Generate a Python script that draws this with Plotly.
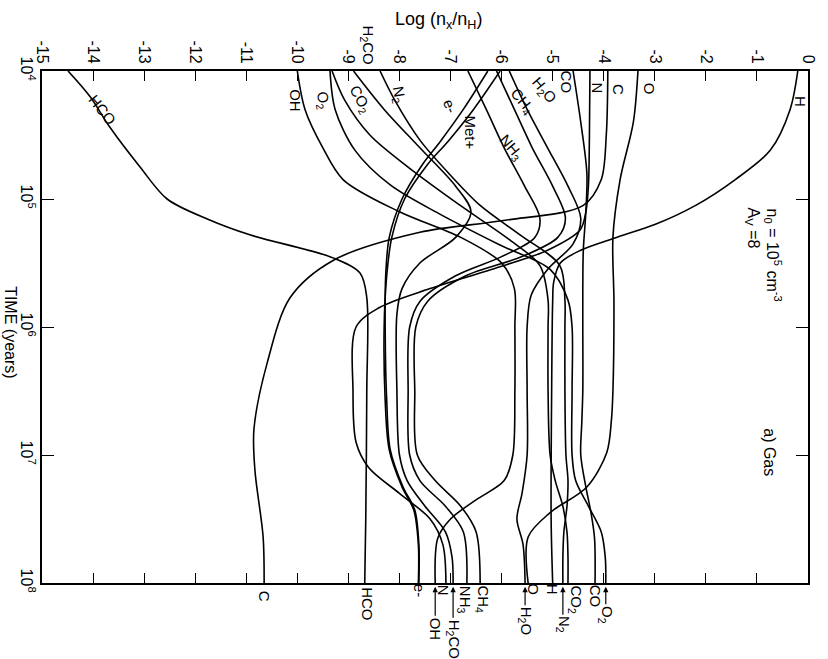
import plotly.graph_objects as go

# ---- abundances: log10(time / yr) knots and log10(n_x / n_H) ----
H_t = [4.0, 4.3, 4.62, 4.85, 5.05, 5.2, 5.3, 5.4, 5.5, 5.65, 5.8, 6.5, 7.5, 8.0]
H_x = [-0.2, -0.35, -0.74, -1.43, -2.2, -3.0, -3.75, -4.45, -4.85, -4.98, -5.0, -5.02, -5.03, -5.0]

O_t = [4.0, 4.4, 4.85, 5.3, 5.8, 6.5, 6.73, 6.98, 7.25, 7.45, 7.64, 8.0]
O_x = [-3.33, -3.42, -3.68, -3.82, -3.8, -3.82, -3.85, -3.94, -4.33, -5.05, -5.48, -5.48]

C_t = [4.0, 4.5, 4.85, 5.05, 5.17, 5.26, 5.48, 5.77, 6.28, 6.8, 7.12, 7.64, 8.0]
C_x = [-3.92, -3.95, -4.05, -4.4, -6.0, -7.6, -9.3, -10.14, -10.59, -10.85, -10.83, -10.67, -10.65]

N_t = [4.0, 4.5, 4.9, 5.1, 5.24, 5.4, 5.55, 5.7, 5.85, 6.0, 6.5, 6.9, 7.1, 7.3, 7.5, 7.7, 8.0]
N_x = [-4.27, -4.28, -4.3, -4.35, -4.46, -5.1, -6.2, -7.4, -8.4, -8.85, -8.91, -8.85, -8.6, -8.0, -7.4, -7.15, -7.09]

CO_t = [4.0, 4.4, 4.8, 5.1, 5.4, 5.7, 6.0, 6.5, 6.75, 7.0, 7.25, 7.45, 7.65, 8.0]
CO_x = [-4.6, -4.45, -4.33, -4.35, -4.4, -4.41, -4.41, -4.41, -4.43, -4.45, -4.35, -4.25, -4.18, -4.17]

H2O_t = [4.0, 4.3, 4.6, 4.9, 5.15, 5.35, 5.55, 5.75, 6.0, 6.5, 7.0, 7.3, 7.5, 7.7, 8.0]
H2O_x = [-5.85, -5.5, -5.1, -4.7, -4.45, -4.6, -5.1, -5.42, -5.5, -5.5, -5.5, -5.6, -5.7, -5.58, -5.54]

CH4_t = [4.0, 4.3, 4.6, 4.9, 5.15, 5.3, 5.45, 5.6, 5.8, 6.0, 6.5, 7.0, 7.2, 7.4, 7.6, 8.0]
CH4_x = [-6.1, -5.75, -5.4, -5.0, -4.75, -4.9, -5.6, -6.7, -7.45, -7.68, -7.7, -7.65, -7.3, -6.8, -6.5, -6.42]

NH3_t = [4.0, 4.3, 4.6, 4.9, 5.15, 5.3, 5.45, 5.6, 5.8, 6.0, 6.5, 7.0, 7.2, 7.4, 7.6, 8.0]
NH3_x = [-6.66, -6.3, -5.95, -5.55, -5.25, -5.35, -6.0, -6.9, -7.6, -7.8, -7.83, -7.8, -7.6, -7.1, -6.75, -6.68]

H2CO_t = [4.0, 4.3, 4.6, 4.9, 5.1, 5.3, 5.5, 5.7, 5.9, 6.5, 7.0, 7.2, 7.4, 7.6, 7.8, 8.0]
H2CO_x = [-8.9, -8.3, -7.6, -6.9, -6.6, -6.9, -7.6, -7.95, -8.05, -8.05, -8.0, -7.85, -7.5, -7.1, -6.97, -6.95]

OH_t = [4.0, 4.3, 4.6, 4.85, 5.1, 5.3, 5.5, 5.7, 6.0, 6.5, 7.0, 7.2, 7.35, 7.5, 7.65, 8.0]
OH_x = [-10.0, -9.85, -9.5, -9.1, -8.0, -6.8, -6.0, -5.75, -5.74, -5.74, -5.78, -5.95, -6.5, -7.0, -7.25, -7.3]

O2_t = [4.0, 4.3, 4.62, 4.89, 5.12, 5.36, 5.55, 5.79, 6.0, 6.5, 7.0, 7.2, 7.4, 7.6, 7.8, 8.0]
O2_x = [-9.36, -9.26, -8.87, -8.18, -7.2, -6.03, -5.05, -4.7, -4.62, -4.62, -4.62, -4.55, -4.3, -4.05, -3.97, -3.96]

CO2_t = [4.0, 4.23, 4.5, 4.76, 5.05, 5.32, 5.52, 5.79, 6.0, 6.5, 7.0, 7.2, 7.4, 7.6, 7.8, 8.0]
CO2_x = [-9.32, -9.07, -8.58, -7.8, -6.81, -5.84, -5.25, -5.09, -5.09, -5.09, -5.05, -4.95, -4.8, -4.72, -4.70, -4.70]

N2_t = [4.0, 4.23, 4.54, 4.81, 5.05, 5.28, 5.52, 5.79, 6.0, 6.5, 7.0, 7.2, 7.4, 7.6, 7.8, 8.0]
N2_x = [-8.38, -8.09, -7.6, -7.01, -6.42, -5.64, -4.86, -4.76, -4.76, -4.76, -4.74, -4.7, -4.72, -4.78, -4.8, -4.8]

E_t = [4.0, 4.3, 4.55, 4.73, 5.0, 5.3, 5.6, 6.0, 6.57, 6.96, 7.25, 7.43, 7.7, 8.0]
E_x = [-6.27, -6.75, -7.2, -7.55, -7.95, -8.2, -8.27, -8.28, -8.25, -8.18, -7.93, -7.7, -7.62, -7.62]
MET_x = [-6.03, -6.55, -7.05, -7.45, -7.9, -8.15, -8.25, -8.3, -8.28, -8.2, -7.95, -7.72, -7.63, -7.63]

HCO_t = [4.0, 4.2, 4.44, 4.75, 5.0, 5.16, 5.28, 5.46, 5.58, 5.77, 6.5, 7.5, 8.0]
HCO_x = [-14.49, -14.06, -13.67, -13.08, -12.55, -11.74, -10.93, -9.30, -8.77, -8.64, -8.64, -8.66, -8.68]

# axis ticks
x_ticks = list(range(-15, 1))
t_ticks = [4, 5, 6, 7, 8]
T_MIN, T_MAX = 4, 8

curves = [
    (H_t, H_x), (O_t, O_x), (C_t, C_x), (N_t, N_x), (CO_t, CO_x),
    (H2O_t, H2O_x), (CH4_t, CH4_x), (NH3_t, NH3_x), (H2CO_t, H2CO_x),
    (OH_t, OH_x), (O2_t, O2_x), (CO2_t, CO2_x), (N2_t, N2_x),
    (E_t, E_x), (E_t, MET_x), (HCO_t, HCO_x),
]

FONT = "Liberation Sans, Arial, sans-serif"
LBL = 15

fig = go.Figure()
for t, x in curves:
    fig.add_trace(go.Scatter(
        x=x, y=[10 ** v for v in t], mode="lines",
        line=dict(color="black", width=1.6, shape="spline", smoothing=0.9),
        hoverinfo="skip", showlegend=False))

ann = []


def t_to_paper(t):
    # time axis runs downwards: 10^4 at the top edge, 10^8 at the bottom edge
    return (T_MAX - t) / (T_MAX - T_MIN)


def label(text, x, t, angle=90, size=LBL):
    ann.append(dict(text=text, x=x, y=t_to_paper(t), xref="x", yref="paper",
                    showarrow=False, textangle=angle,
                    font=dict(family=FONT, size=size, color="black"),
                    xanchor="center", yanchor="middle"))


# labels near the start of the curves
label("HCO", -13.82, 4.30, 52)
label("OH", -10.04, 4.23)
label("O<sub>2</sub>", -9.50, 4.23, 80)
label("CO<sub>2</sub>", -8.77, 4.22, 60)
label("N<sub>2</sub>", -8.01, 4.19, 80)
label("H<sub>2</sub>CO", -8.62, 3.80)
label("e-", -7.01, 4.27, 70)
label("Met+", -6.60, 4.48)
label("NH<sub>3</sub>", -5.82, 4.60, 50)
label("CH<sub>4</sub>", -5.60, 4.24, 50)
label("H<sub>2</sub>O", -5.17, 4.15, 50)
label("CO", -4.72, 4.09)
label("N", -4.13, 4.13)
label("C", -3.72, 4.14)
label("O", -3.11, 4.14)
label("H", -0.16, 4.24)

# labels at the end of the curves
label("C", C_x[-1], 8.10)
label("HCO", HCO_x[-1] + 0.05, 8.16)
label("e-", E_x[-1], 8.06)
label("N", N_x[-1] - 0.06, 8.06)
label("NH<sub>3</sub>", NH3_x[-1] - 0.04, 8.13)
label("CH<sub>4</sub>", CH4_x[-1] + 0.04, 8.13)
label("O", O_x[-1] + 0.1, 8.05)
label("H", H_x[-1], 8.05)
label("CO<sub>2</sub>", CO2_x[-1] + 0.14, 8.13)
label("CO", CO_x[-1], 8.10)


def arrow_label(text, x, dy):
    ann.append(dict(text=text, x=x, y=t_to_paper(8.03), xref="x", yref="paper",
                    showarrow=True, ax=0, ay=dy, arrowhead=2, arrowsize=0.9,
                    arrowwidth=1.2, arrowcolor="black", standoff=0, textangle=90,
                    font=dict(family=FONT, size=LBL, color="black")))


arrow_label("OH", OH_x[-1], 42)
arrow_label("H<sub>2</sub>CO", H2CO_x[-1], 52)
arrow_label("H<sub>2</sub>O", H2O_x[-1], 34)
arrow_label("N<sub>2</sub>", N2_x[-1], 38)
arrow_label("O<sub>2</sub>", O2_x[-1], 28)

# model parameters and panel tag
label("n<sub>0</sub> = 10<sup>5</sup> cm<sup>-3</sup>", -0.69, 5.44, size=16)
label("A<sub>V</sub> =8", -1.08, 5.23, size=16)
label("a) Gas", -0.76, 6.98, size=16)

# axis titles
ann.append(dict(text="Log (n<sub>x</sub>/n<sub>H</sub>)", x=0.518, y=1.098, xref="paper",
                yref="paper", showarrow=False, xanchor="center", yanchor="middle",
                font=dict(family=FONT, size=18, color="black")))
ann.append(dict(text="TIME (years)", x=-0.0405, y=0.49, xref="paper", yref="paper",
                showarrow=False, textangle=90, xanchor="center", yanchor="middle",
                font=dict(family=FONT, size=16, color="black")))

# framed axes; ticks point inward and are repeated on the opposite edges
frame = dict(showline=True, linecolor="black", linewidth=1.5, mirror="allticks",
             ticks="inside", tickcolor="black", tickwidth=1.4, showgrid=False,
             zeroline=False, tickangle=90,
             tickfont=dict(family=FONT, size=16, color="black"))

fig.update_layout(
    width=828, height=659,
    margin=dict(l=42, r=20, t=71, b=76),
    paper_bgcolor="white", plot_bgcolor="white",
    annotations=ann,
    xaxis=dict(side="top", range=[-15, 0], tickmode="array", tickvals=x_ticks,
               ticktext=[str(v) for v in x_ticks], ticklen=10, **frame),
    yaxis=dict(type="log", range=[T_MAX, T_MIN], tickmode="array",
               tickvals=[10 ** v for v in t_ticks],
               ticktext=["10<sup>%d</sup>" % v for v in t_ticks], ticklen=12,
               **frame),
)

fig.write_html("out.html")
